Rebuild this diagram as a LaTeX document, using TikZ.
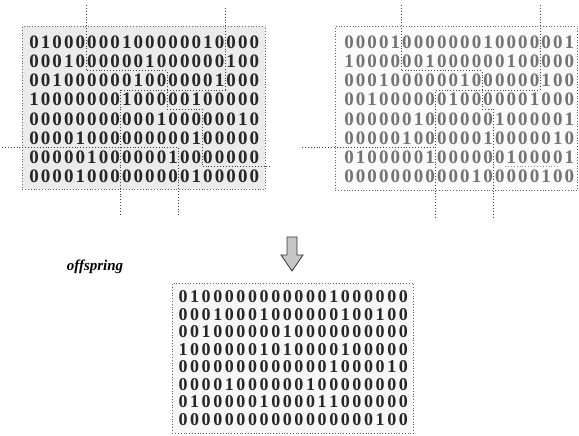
\documentclass[tikz,border=0pt]{standalone}
\usepackage{fontspec}
\setmainfont{Liberation Serif}
\newlength\dw
\setlength\dw{11.6pt}
\def\dorow#1{\dorowi#1\relax}
\def\dorowi#1{\ifx#1\relax\else\makebox[\dw]{#1}\expandafter\dorowi\fi}
\tikzset{
  mbox/.style={draw=black!60, dotted, line width=0.8pt, anchor=north west, inner sep=0pt},
  cut/.style={draw=black!75, dotted, line width=0.9pt},
  lrow/.style={anchor=west, inner sep=0pt, text=black!85, font=\fontsize{19}{19}\selectfont\bfseries},
  rrow/.style={anchor=west, inner sep=0pt, text=black!55, font=\fontsize{19}{19}\selectfont\bfseries},
  orow/.style={anchor=west, inner sep=0pt, text=black!85, font=\fontsize{18}{18}\selectfont\bfseries},
}
\begin{document}
\begin{tikzpicture}[x=1pt,y=-1pt]
\useasboundingbox (0,0) rectangle (579,436);
% boxes
\node[mbox, fill=gray!16, minimum width=243pt, minimum height=163pt] (lbox) at (22,26) {};
\node[mbox, fill=gray!4, minimum width=242pt, minimum height=164pt] (rbox) at (335,26) {};
\node[mbox, fill=gray!6, minimum width=241pt, minimum height=150pt] (obox) at (172,283) {};
% left parent
\node[lrow] (l1) at (28,42.0) {\dorow{01000000100000010000}};
\node[lrow] (l2) at (28,61.2) {\dorow{00010000001000000100}};
\node[lrow] (l3) at (28,80.4) {\dorow{00100000010000001000}};
\node[lrow] (l4) at (28,99.6) {\dorow{10000000100000100000}};
\node[lrow] (l5) at (28,118.8) {\dorow{00000000000100000010}};
\node[lrow] (l6) at (28,138.0) {\dorow{00001000000000100000}};
\node[lrow] (l7) at (28,157.2) {\dorow{00000100000010000000}};
\node[lrow] (l8) at (28,176.4) {\dorow{00001000000000100000}};
% right parent
\node[rrow] (r1) at (343,42.0) {\dorow{00001000000010000001}};
\node[rrow] (r2) at (343,61.2) {\dorow{10000001000000100000}};
\node[rrow] (r3) at (343,80.4) {\dorow{00010000001000000100}};
\node[rrow] (r4) at (343,99.6) {\dorow{00100000010000001000}};
\node[rrow] (r5) at (343,118.8) {\dorow{00000010000001000001}};
\node[rrow] (r6) at (343,138.0) {\dorow{00000100000010000010}};
\node[rrow] (r7) at (343,157.2) {\dorow{01000001000000100001}};
\node[rrow] (r8) at (343,176.4) {\dorow{00000000000100000100}};
% offspring
\node[orow] (o1) at (177,297.0) {\dorow{01000000000001000000}};
\node[orow] (o2) at (177,314.5) {\dorow{00010001000000100100}};
\node[orow] (o3) at (177,332.0) {\dorow{00100000010000000000}};
\node[orow] (o4) at (177,349.5) {\dorow{10000001010000100000}};
\node[orow] (o5) at (177,367.0) {\dorow{00000000000001000010}};
\node[orow] (o6) at (177,384.5) {\dorow{00001000000100000000}};
\node[orow] (o7) at (177,402.0) {\dorow{01000001000011000000}};
\node[orow] (o8) at (177,419.5) {\dorow{00000000000000000100}};
% crossover cuts, left parent
\draw[cut] (86,5) -- (86,70.8) -- (167.2,70.8) -- (167.2,109.2) -- (202,109.2) -- (202,166.8) -- (272,166.8);
\draw[cut] (225.2,8) -- (225.2,90) -- (120.8,90) -- (120.8,215);
\draw[cut] (2,147.6) -- (178.8,147.6) -- (178.8,215);
% crossover cuts, right parent
\draw[cut] (401,5) -- (401,70.8) -- (482.2,70.8) -- (482.2,109.2) -- (493.8,109.2) -- (493.8,217);
\draw[cut] (540.2,5) -- (540.2,90) -- (435.8,90) -- (435.8,217);
\draw[cut] (302,147.6) -- (435.8,147.6);
\draw[cut, draw=black!45] (505,166.8) -- (560,166.8);
% arrow
\draw[fill=gray!45, draw=black!80, line width=0.8pt] (287,237) -- (297,237) -- (297,255) -- (303,255) -- (292,271) -- (281,255) -- (287,255) -- cycle;
% label
\node[font=\fontsize{15}{15}\selectfont\bfseries\itshape] (lab) at (95,267) {offspring};
\end{tikzpicture}
\end{document}
